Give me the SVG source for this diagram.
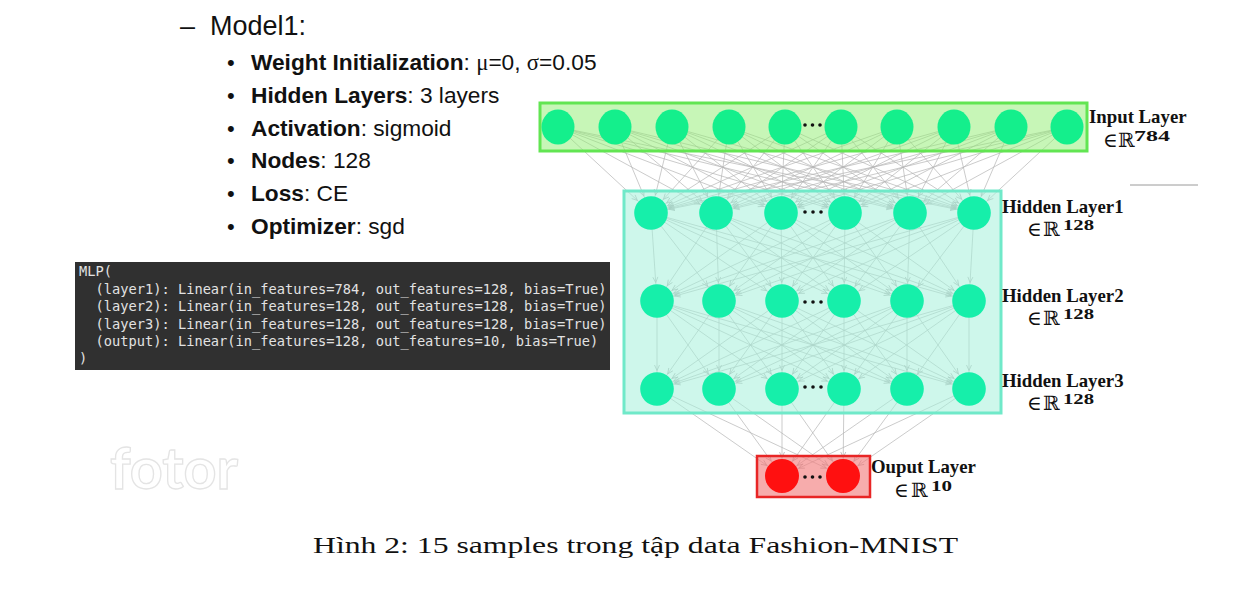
<svg xmlns="http://www.w3.org/2000/svg" width="1252" height="590" viewBox="0 0 1252 590">
<style>
.t{font-family:"Liberation Sans",Arial,sans-serif;fill:#111}
.b{font-weight:bold}
.code{font-family:"DejaVu Sans Mono",monospace;font-size:13.7px;fill:#e2e2e2}
.lbl{font-family:"Liberation Serif","Times New Roman",serif;font-weight:bold;font-size:18.8px;fill:#111}
.mem{font-family:"Liberation Serif","DejaVu Serif",serif;font-size:20px;fill:#111}
.sup{font-family:"Liberation Serif",serif;font-weight:bold;font-size:15px;fill:#111}
.c line{stroke:#b4b4b4;stroke-width:0.7;marker-end:url(#ah)}
.in{fill:#14ef8c}
.hid{fill:#16efaa}
.out{fill:#ff1010}
.dot{fill:#111}
</style>
<defs>
<marker id="ah" markerUnits="userSpaceOnUse" viewBox="-30 -6 32 12" refX="0" refY="0" markerWidth="32" markerHeight="12" orient="auto">
<path d="M-24,-2.5 L-18.5,0 L-24,2.5" fill="none" stroke="#a8a8a8" stroke-width="0.7"/>
</marker>
</defs>
<rect width="1252" height="590" fill="#fff"/>

<g id="bullets">
<text class="t" x="180" y="35" font-size="27">–</text>
<text class="t" x="210" y="35" font-size="27">Model1:</text>
<text class="t" x="227" y="70" font-size="22">•</text>
<text class="t" x="251" y="70" font-size="22.7"><tspan class="b">Weight Initialization</tspan>: <tspan font-family="Liberation Serif,serif">μ</tspan>=0, <tspan font-family="Liberation Serif,serif">σ</tspan>=0.05</text>
<text class="t" x="227" y="103" font-size="22">•</text>
<text class="t" x="251" y="103" font-size="22.7"><tspan class="b">Hidden Layers</tspan>: 3 layers</text>
<text class="t" x="227" y="136" font-size="22">•</text>
<text class="t" x="251" y="136" font-size="22.7"><tspan class="b">Activation</tspan>: sigmoid</text>
<text class="t" x="227" y="168" font-size="22">•</text>
<text class="t" x="251" y="168" font-size="22.7"><tspan class="b">Nodes</tspan>: 128</text>
<text class="t" x="227" y="201" font-size="22">•</text>
<text class="t" x="251" y="201" font-size="22.7"><tspan class="b">Loss</tspan>: CE</text>
<text class="t" x="227" y="234" font-size="22">•</text>
<text class="t" x="251" y="234" font-size="22.7"><tspan class="b">Optimizer</tspan>: sgd</text>
</g>

<g id="code">
<rect x="75" y="262" width="535" height="108" fill="#303030"/>
<text class="code" x="79" y="276">MLP(</text>
<text class="code" x="95.5" y="293.5">(layer1): Linear(in_features=784, out_features=128, bias=True)</text>
<text class="code" x="95.5" y="311">(layer2): Linear(in_features=128, out_features=128, bias=True)</text>
<text class="code" x="95.5" y="328.5">(layer3): Linear(in_features=128, out_features=128, bias=True)</text>
<text class="code" x="95.5" y="346">(output): Linear(in_features=128, out_features=10, bias=True)</text>
<text class="code" x="79" y="363">)</text>
</g>

<text x="110" y="489" font-family="Lato,'Liberation Sans',sans-serif" font-weight="bold" font-size="58" fill="#fff" stroke="#e4e4e4" stroke-width="1.3" textLength="128" lengthAdjust="spacingAndGlyphs">fotor</text>

<line x1="1130" y1="185" x2="1198" y2="185" stroke="#9a9a9a" stroke-width="1"/>

<g id="connectors" class="c">
<line x1="558" y1="127" x2="651" y2="213"/><line x1="558" y1="127" x2="716" y2="213"/><line x1="558" y1="127" x2="781" y2="213"/><line x1="558" y1="127" x2="845" y2="213"/><line x1="558" y1="127" x2="910" y2="213"/><line x1="558" y1="127" x2="974" y2="213"/>
<line x1="615" y1="127" x2="651" y2="213"/><line x1="615" y1="127" x2="716" y2="213"/><line x1="615" y1="127" x2="781" y2="213"/><line x1="615" y1="127" x2="845" y2="213"/><line x1="615" y1="127" x2="910" y2="213"/><line x1="615" y1="127" x2="974" y2="213"/>
<line x1="672" y1="127" x2="651" y2="213"/><line x1="672" y1="127" x2="716" y2="213"/><line x1="672" y1="127" x2="781" y2="213"/><line x1="672" y1="127" x2="845" y2="213"/><line x1="672" y1="127" x2="910" y2="213"/><line x1="672" y1="127" x2="974" y2="213"/>
<line x1="729" y1="127" x2="651" y2="213"/><line x1="729" y1="127" x2="716" y2="213"/><line x1="729" y1="127" x2="781" y2="213"/><line x1="729" y1="127" x2="845" y2="213"/><line x1="729" y1="127" x2="910" y2="213"/><line x1="729" y1="127" x2="974" y2="213"/>
<line x1="785" y1="127" x2="651" y2="213"/><line x1="785" y1="127" x2="716" y2="213"/><line x1="785" y1="127" x2="781" y2="213"/><line x1="785" y1="127" x2="845" y2="213"/><line x1="785" y1="127" x2="910" y2="213"/><line x1="785" y1="127" x2="974" y2="213"/>
<line x1="841" y1="127" x2="651" y2="213"/><line x1="841" y1="127" x2="716" y2="213"/><line x1="841" y1="127" x2="781" y2="213"/><line x1="841" y1="127" x2="845" y2="213"/><line x1="841" y1="127" x2="910" y2="213"/><line x1="841" y1="127" x2="974" y2="213"/>
<line x1="897" y1="127" x2="651" y2="213"/><line x1="897" y1="127" x2="716" y2="213"/><line x1="897" y1="127" x2="781" y2="213"/><line x1="897" y1="127" x2="845" y2="213"/><line x1="897" y1="127" x2="910" y2="213"/><line x1="897" y1="127" x2="974" y2="213"/>
<line x1="954" y1="127" x2="651" y2="213"/><line x1="954" y1="127" x2="716" y2="213"/><line x1="954" y1="127" x2="781" y2="213"/><line x1="954" y1="127" x2="845" y2="213"/><line x1="954" y1="127" x2="910" y2="213"/><line x1="954" y1="127" x2="974" y2="213"/>
<line x1="1011" y1="127" x2="651" y2="213"/><line x1="1011" y1="127" x2="716" y2="213"/><line x1="1011" y1="127" x2="781" y2="213"/><line x1="1011" y1="127" x2="845" y2="213"/><line x1="1011" y1="127" x2="910" y2="213"/><line x1="1011" y1="127" x2="974" y2="213"/>
<line x1="1067" y1="127" x2="651" y2="213"/><line x1="1067" y1="127" x2="716" y2="213"/><line x1="1067" y1="127" x2="781" y2="213"/><line x1="1067" y1="127" x2="845" y2="213"/><line x1="1067" y1="127" x2="910" y2="213"/><line x1="1067" y1="127" x2="974" y2="213"/>

<line x1="651" y1="213" x2="657" y2="301"/><line x1="651" y1="213" x2="719" y2="301"/><line x1="651" y1="213" x2="782" y2="301"/><line x1="651" y1="213" x2="844" y2="301"/><line x1="651" y1="213" x2="907" y2="301"/><line x1="651" y1="213" x2="969" y2="301"/>
<line x1="716" y1="213" x2="657" y2="301"/><line x1="716" y1="213" x2="719" y2="301"/><line x1="716" y1="213" x2="782" y2="301"/><line x1="716" y1="213" x2="844" y2="301"/><line x1="716" y1="213" x2="907" y2="301"/><line x1="716" y1="213" x2="969" y2="301"/>
<line x1="781" y1="213" x2="657" y2="301"/><line x1="781" y1="213" x2="719" y2="301"/><line x1="781" y1="213" x2="782" y2="301"/><line x1="781" y1="213" x2="844" y2="301"/><line x1="781" y1="213" x2="907" y2="301"/><line x1="781" y1="213" x2="969" y2="301"/>
<line x1="845" y1="213" x2="657" y2="301"/><line x1="845" y1="213" x2="719" y2="301"/><line x1="845" y1="213" x2="782" y2="301"/><line x1="845" y1="213" x2="844" y2="301"/><line x1="845" y1="213" x2="907" y2="301"/><line x1="845" y1="213" x2="969" y2="301"/>
<line x1="910" y1="213" x2="657" y2="301"/><line x1="910" y1="213" x2="719" y2="301"/><line x1="910" y1="213" x2="782" y2="301"/><line x1="910" y1="213" x2="844" y2="301"/><line x1="910" y1="213" x2="907" y2="301"/><line x1="910" y1="213" x2="969" y2="301"/>
<line x1="974" y1="213" x2="657" y2="301"/><line x1="974" y1="213" x2="719" y2="301"/><line x1="974" y1="213" x2="782" y2="301"/><line x1="974" y1="213" x2="844" y2="301"/><line x1="974" y1="213" x2="907" y2="301"/><line x1="974" y1="213" x2="969" y2="301"/>

<line x1="657" y1="301" x2="657" y2="389"/><line x1="657" y1="301" x2="719" y2="389"/><line x1="657" y1="301" x2="782" y2="389"/><line x1="657" y1="301" x2="844" y2="389"/><line x1="657" y1="301" x2="907" y2="389"/><line x1="657" y1="301" x2="969" y2="389"/>
<line x1="719" y1="301" x2="657" y2="389"/><line x1="719" y1="301" x2="719" y2="389"/><line x1="719" y1="301" x2="782" y2="389"/><line x1="719" y1="301" x2="844" y2="389"/><line x1="719" y1="301" x2="907" y2="389"/><line x1="719" y1="301" x2="969" y2="389"/>
<line x1="782" y1="301" x2="657" y2="389"/><line x1="782" y1="301" x2="719" y2="389"/><line x1="782" y1="301" x2="782" y2="389"/><line x1="782" y1="301" x2="844" y2="389"/><line x1="782" y1="301" x2="907" y2="389"/><line x1="782" y1="301" x2="969" y2="389"/>
<line x1="844" y1="301" x2="657" y2="389"/><line x1="844" y1="301" x2="719" y2="389"/><line x1="844" y1="301" x2="782" y2="389"/><line x1="844" y1="301" x2="844" y2="389"/><line x1="844" y1="301" x2="907" y2="389"/><line x1="844" y1="301" x2="969" y2="389"/>
<line x1="907" y1="301" x2="657" y2="389"/><line x1="907" y1="301" x2="719" y2="389"/><line x1="907" y1="301" x2="782" y2="389"/><line x1="907" y1="301" x2="844" y2="389"/><line x1="907" y1="301" x2="907" y2="389"/><line x1="907" y1="301" x2="969" y2="389"/>
<line x1="969" y1="301" x2="657" y2="389"/><line x1="969" y1="301" x2="719" y2="389"/><line x1="969" y1="301" x2="782" y2="389"/><line x1="969" y1="301" x2="844" y2="389"/><line x1="969" y1="301" x2="907" y2="389"/><line x1="969" y1="301" x2="969" y2="389"/>

<line x1="657" y1="389" x2="782" y2="476"/><line x1="657" y1="389" x2="843" y2="476"/>
<line x1="719" y1="389" x2="782" y2="476"/><line x1="719" y1="389" x2="843" y2="476"/>
<line x1="782" y1="389" x2="782" y2="476"/><line x1="782" y1="389" x2="843" y2="476"/>
<line x1="844" y1="389" x2="782" y2="476"/><line x1="844" y1="389" x2="843" y2="476"/>
<line x1="907" y1="389" x2="782" y2="476"/><line x1="907" y1="389" x2="843" y2="476"/>
<line x1="969" y1="389" x2="782" y2="476"/><line x1="969" y1="389" x2="843" y2="476"/>
</g>

<g id="input-layer">
<rect x="540" y="103" width="547" height="48" fill="#8fee70" fill-opacity="0.5" stroke="#62e552" stroke-width="3"/>
<ellipse class="in" cx="558" cy="127" rx="16.5" ry="17.5"/>
<ellipse class="in" cx="615" cy="127" rx="16.5" ry="17.5"/>
<ellipse class="in" cx="672" cy="127" rx="16.5" ry="17.5"/>
<ellipse class="in" cx="729" cy="127" rx="16.5" ry="17.5"/>
<ellipse class="in" cx="785" cy="127" rx="16.5" ry="17.5"/>
<ellipse class="in" cx="841" cy="127" rx="16.5" ry="17.5"/>
<ellipse class="in" cx="897" cy="127" rx="16.5" ry="17.5"/>
<ellipse class="in" cx="954" cy="127" rx="16.5" ry="17.5"/>
<ellipse class="in" cx="1011" cy="127" rx="16.5" ry="17.5"/>
<ellipse class="in" cx="1067" cy="127" rx="16.5" ry="17.5"/>
<circle class="dot" cx="805" cy="125" r="1.8"/><circle class="dot" cx="812.5" cy="125" r="1.8"/><circle class="dot" cx="820" cy="125" r="1.8"/>
<text class="lbl" x="1089" y="123">Input Layer</text>
<text class="mem" x="1103" y="147">∈</text><text class="mem" x="1118" y="147">ℝ</text><text class="sup" x="1134" y="141" textLength="36" lengthAdjust="spacingAndGlyphs">784</text>
</g>

<g id="hidden-box">
<rect x="624" y="191" width="377" height="222" fill="#a6f0da" fill-opacity="0.55" stroke="#70e9c9" stroke-width="3"/>
</g>

<g id="hidden-layer1">
<circle class="hid" cx="651" cy="213" r="16.8"/>
<circle class="hid" cx="716" cy="213" r="16.8"/>
<circle class="hid" cx="781" cy="213" r="16.8"/>
<circle class="hid" cx="845" cy="213" r="16.8"/>
<circle class="hid" cx="910" cy="213" r="16.8"/>
<circle class="hid" cx="974" cy="213" r="16.8"/>
<circle class="dot" cx="805" cy="212" r="1.8"/><circle class="dot" cx="813" cy="212" r="1.8"/><circle class="dot" cx="821" cy="212" r="1.8"/>
<text class="lbl" x="1002" y="213">Hidden Layer1</text>
<text class="mem" x="1027" y="236">∈</text><text class="mem" x="1043" y="236">ℝ</text><text class="sup" x="1063" y="230" textLength="31" lengthAdjust="spacingAndGlyphs">128</text>
</g>

<g id="hidden-layer2">
<circle class="hid" cx="657" cy="301" r="16.8"/>
<circle class="hid" cx="719" cy="301" r="16.8"/>
<circle class="hid" cx="782" cy="301" r="16.8"/>
<circle class="hid" cx="844" cy="301" r="16.8"/>
<circle class="hid" cx="907" cy="301" r="16.8"/>
<circle class="hid" cx="969" cy="301" r="16.8"/>
<circle class="dot" cx="805" cy="302" r="1.8"/><circle class="dot" cx="813" cy="302" r="1.8"/><circle class="dot" cx="821" cy="302" r="1.8"/>
<text class="lbl" x="1002" y="302">Hidden Layer2</text>
<text class="mem" x="1027" y="325">∈</text><text class="mem" x="1043" y="325">ℝ</text><text class="sup" x="1063" y="319" textLength="31" lengthAdjust="spacingAndGlyphs">128</text>
</g>

<g id="hidden-layer3">
<circle class="hid" cx="657" cy="389" r="16.8"/>
<circle class="hid" cx="719" cy="389" r="16.8"/>
<circle class="hid" cx="782" cy="389" r="16.8"/>
<circle class="hid" cx="844" cy="389" r="16.8"/>
<circle class="hid" cx="907" cy="389" r="16.8"/>
<circle class="hid" cx="969" cy="389" r="16.8"/>
<circle class="dot" cx="805" cy="387" r="1.8"/><circle class="dot" cx="813" cy="387" r="1.8"/><circle class="dot" cx="821" cy="387" r="1.8"/>
<text class="lbl" x="1002" y="387">Hidden Layer3</text>
<text class="mem" x="1027" y="410">∈</text><text class="mem" x="1043" y="410">ℝ</text><text class="sup" x="1063" y="404" textLength="31" lengthAdjust="spacingAndGlyphs">128</text>
</g>

<g id="output-layer">
<rect x="757" y="456" width="113" height="41" fill="#f27f7f" fill-opacity="0.65" stroke="#e82525" stroke-width="2.5"/>
<circle class="out" cx="782" cy="476" r="17"/>
<circle class="out" cx="843" cy="476" r="17"/>
<circle class="dot" cx="805" cy="477" r="1.8"/><circle class="dot" cx="812.5" cy="477" r="1.8"/><circle class="dot" cx="820" cy="477" r="1.8"/>
<text class="lbl" x="871" y="473">Ouput Layer</text>
<text class="mem" x="894" y="497">∈</text><text class="mem" x="911" y="497">ℝ</text><text class="sup" x="931" y="491" textLength="21" lengthAdjust="spacingAndGlyphs">10</text>
</g>

<text x="313" y="553" font-family="'Liberation Serif','DejaVu Serif',serif" font-size="24" fill="#111" textLength="645" lengthAdjust="spacingAndGlyphs">Hình 2: 15 samples trong tập data Fashion-MNIST</text>
</svg>
